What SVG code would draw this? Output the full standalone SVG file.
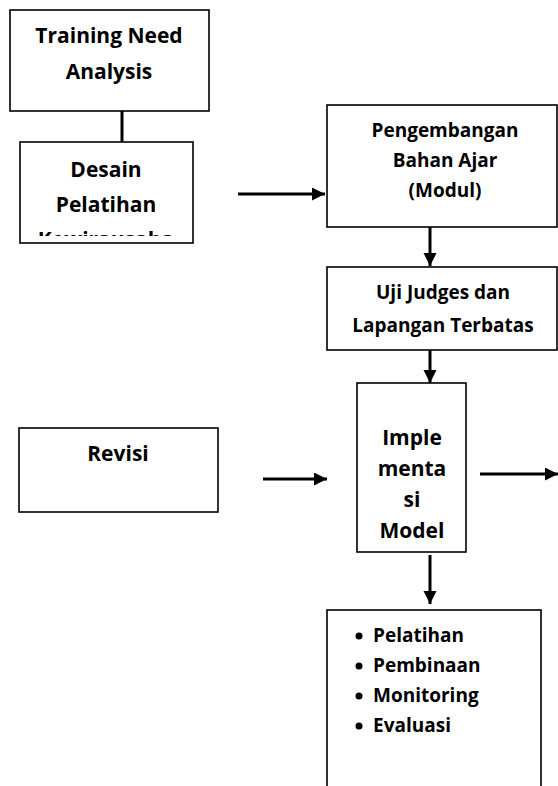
<svg xmlns="http://www.w3.org/2000/svg" width="558" height="786" viewBox="0 0 558 786">
<style>
.box{fill:#fff;stroke:#000;stroke-width:1.6}
.t{font-family:"Open Sans","Liberation Sans",sans-serif;font-weight:bold;fill:#000;text-anchor:middle}
.l{font-family:"Open Sans","Liberation Sans",sans-serif;font-weight:bold;fill:#000;font-size:19px}
.c{stroke:#000;stroke-width:3;fill:none}
</style>
<defs>
<marker id="ah" markerUnits="userSpaceOnUse" markerWidth="14" markerHeight="14" refX="13" refY="6.5" orient="auto">
<path d="M0,0 L13,6.5 L0,13 Z" fill="#000"/>
</marker>
<clipPath id="clipDesain"><rect x="20" y="142" width="173" height="94"/></clipPath>
</defs>
<rect width="558" height="786" fill="#fff"/>
<g id="connectors">
<line class="c" x1="122" y1="111" x2="122" y2="142"/>
<line class="c" x1="238" y1="194" x2="325" y2="194" marker-end="url(#ah)"/>
<line class="c" x1="430" y1="227" x2="430" y2="266" marker-end="url(#ah)"/>
<line class="c" x1="430" y1="350" x2="430" y2="383" marker-end="url(#ah)"/>
<line class="c" x1="263" y1="479" x2="327" y2="479" marker-end="url(#ah)"/>
<line class="c" x1="480" y1="474" x2="558" y2="474" marker-end="url(#ah)"/>
<line class="c" x1="430" y1="555" x2="430" y2="604" marker-end="url(#ah)"/>
</g>
<g id="tna">
<rect class="box" x="10" y="10" width="199" height="101"/>
<text class="t" x="109" y="43" font-size="21">Training Need</text>
<text class="t" x="109" y="79" font-size="21">Analysis</text>
</g>
<g id="desain">
<rect class="box" x="20" y="142" width="173" height="101"/>
<g clip-path="url(#clipDesain)">
<text class="t" x="106" y="177" font-size="21">Desain</text>
<text class="t" x="106" y="212" font-size="21">Pelatihan</text>
<text class="t" x="106" y="247" font-size="21">Kewirausaha</text>
</g>
</g>
<g id="pengembangan">
<rect class="box" x="327" y="105" width="230" height="122"/>
<text class="t" x="445" y="137" font-size="19">Pengembangan</text>
<text class="t" x="445" y="167" font-size="19">Bahan Ajar</text>
<text class="t" x="445" y="197" font-size="19">(Modul)</text>
</g>
<g id="uji">
<rect class="box" x="327" y="267" width="230" height="83"/>
<text class="t" x="443" y="299" font-size="19">Uji Judges dan</text>
<text class="t" x="443" y="332" font-size="19">Lapangan Terbatas</text>
</g>
<g id="implementasi">
<rect class="box" x="357" y="383" width="109" height="169"/>
<text class="t" x="412" y="445" font-size="21">Imple</text>
<text class="t" x="412" y="476" font-size="21">menta</text>
<text class="t" x="412" y="507" font-size="21">si</text>
<text class="t" x="412" y="538" font-size="21">Model</text>
</g>
<g id="revisi">
<rect class="box" x="19" y="428" width="199" height="84"/>
<text class="t" x="118" y="461" font-size="21">Revisi</text>
</g>
<g id="kegiatan">
<rect class="box" x="327" y="610" width="214" height="200"/>
<circle cx="359" cy="636" r="3.5"/>
<circle cx="359" cy="666" r="3.5"/>
<circle cx="359" cy="696" r="3.5"/>
<circle cx="359" cy="726" r="3.5"/>
<text class="l" x="373" y="642">Pelatihan</text>
<text class="l" x="373" y="672">Pembinaan</text>
<text class="l" x="373" y="702">Monitoring</text>
<text class="l" x="373" y="732">Evaluasi</text>
</g>
</svg>
